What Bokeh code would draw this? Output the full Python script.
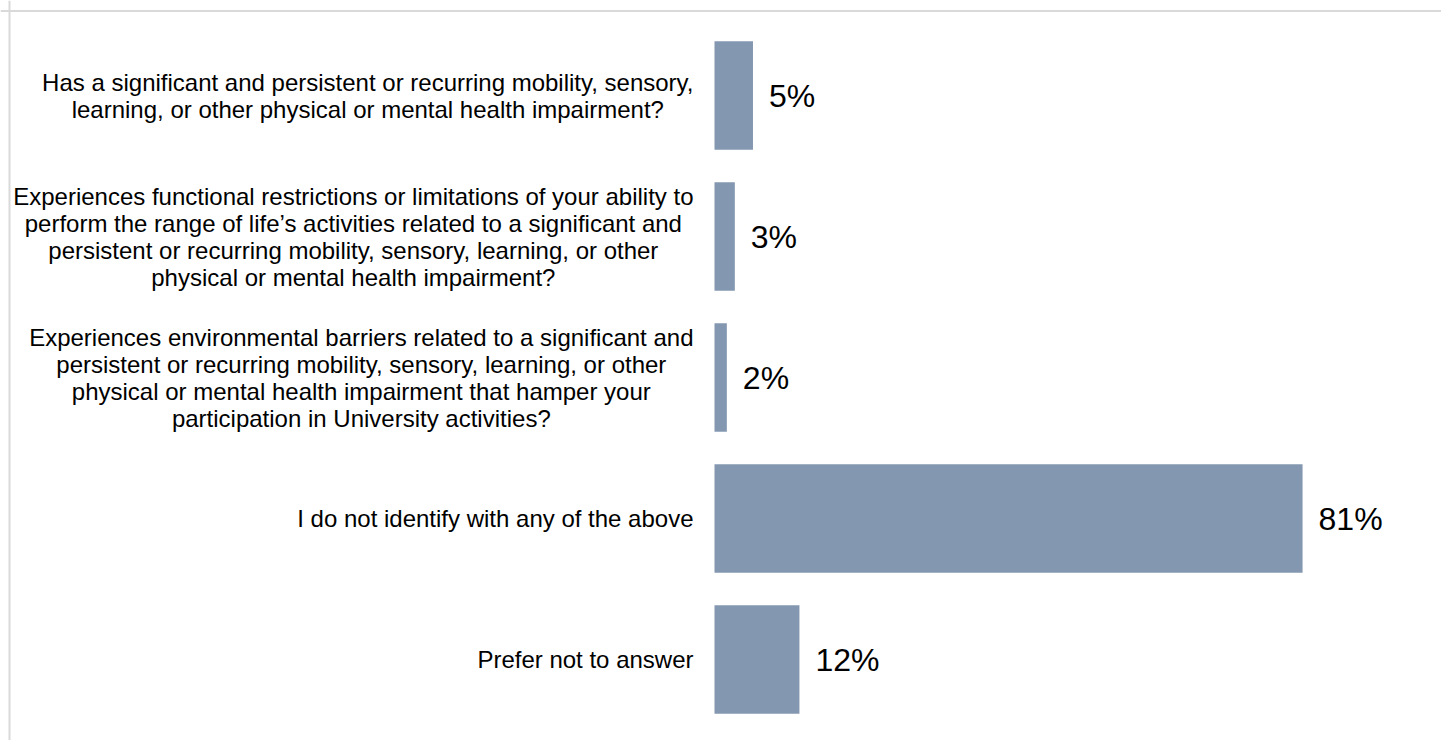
from bokeh.plotting import figure
from bokeh.models import ColumnDataSource, Range1d, Span
from bokeh.core.properties import value
from bokeh.embed import file_html
from bokeh.resources import INLINE

# ---- data ----
categories = [
    "Has a significant and persistent or recurring mobility, sensory,\n"
    "learning, or other physical or mental health impairment?",
    "Experiences functional restrictions or limitations of your ability to\n"
    "perform the range of life\u2019s activities related to a significant and\n"
    "persistent or recurring mobility, sensory, learning, or other\n"
    "physical or mental health impairment?",
    "Experiences environmental barriers related to a significant and\n"
    "persistent or recurring mobility, sensory, learning, or other\n"
    "physical or mental health impairment that hamper your\n"
    "participation in University activities?",
    "I do not identify with any of the above",
    "Prefer not to answer",
]
percent = [5.3, 2.8, 1.7, 81.0, 11.7]
value_labels = [f"{round(v)}%" for v in percent]

# ---- layout ----
W, H = 1441, 740
px_per_pct = 7.26
zero_px = 714          # position of 0% inside the figure
row_px = 141           # distance between bar centres
first_px = 95          # centre of first bar from figure top

xs = -zero_px / px_per_pct
xe = xs + W / px_per_pct
y_top = -first_px / row_px
y_bot = (H - first_px) / row_px

rows = list(range(len(categories)))
src = ColumnDataSource(dict(
    y=rows, v=percent, cat=categories, lbl=value_labels,
    zero=[0] * len(categories),
))

p = figure(width=W, height=H, x_range=Range1d(xs, xe), y_range=Range1d(y_bot, y_top),
           x_axis_type=None, y_axis_type=None,
           output_backend="svg", toolbar_location=None, min_border=0)
p.grid.visible = False
p.outline_line_color = None
p.background_fill_color = "white"
p.border_fill_color = "white"

p.hbar(y="y", left=0, right="v", height=0.77, source=src,
       fill_color="#8497b0", line_color=None)

p.text(x="v", y="y", text="lbl", source=src, x_offset=16,
       text_align="left", text_baseline="middle",
       text_font=value("Liberation Sans"), text_font_size="32px", text_color="#000000")

p.text(x="zero", y="y", text="cat", source=src, x_offset=-21,
       anchor="center_right", text_align="center", text_baseline="middle",
       text_font=value("Liberation Sans"), text_font_size="24px",
       text_line_height=1.0, text_color="#000000")

# chart-area border (left and top edges visible)
p.add_layout(Span(location=xs + 9 / px_per_pct, dimension="height",
                  line_color="#d9d9d9", line_width=2))
p.add_layout(Span(location=y_top + 10.5 / row_px, dimension="width",
                  line_color="#d9d9d9", line_width=2))

open("out.html", "w").write(file_html(p, INLINE))
